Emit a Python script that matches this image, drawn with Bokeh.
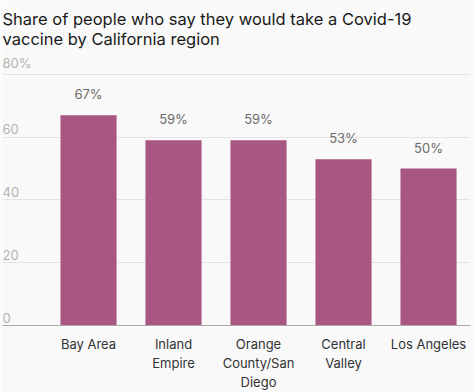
from bokeh.plotting import figure
from bokeh.models import ColumnDataSource, Range1d, FixedTicker
from bokeh.core.properties import value
from bokeh.embed import file_html
from bokeh.resources import INLINE

regions = ["Bay Area", "Inland\nEmpire", "Orange\nCounty/San\nDiego", "Central\nValley", "Los Angeles"]
shares = [67, 59, 59, 53, 50]
share_labels = ["67%", "59%", "59%", "53%", "50%"]
y_ticks = [0, 20, 40, 60, 80]
y_tick_labels = ["0", "20", "40", "60", "80%"]

FONT = "Inter"
BG = "#f9f9f9"
BAR = "#a95682"

xs = list(range(len(regions)))
src = ColumnDataSource(dict(x=xs, top=shares, label=share_labels))

X0, X1 = -1.012, 4.494
p = figure(width=473, height=392, output_backend="svg", toolbar_location=None,
           x_range=Range1d(X0, X1), y_range=Range1d(0, 87),
           background_fill_color=BG, border_fill_color=BG, outline_line_color=None,
           min_border_left=2, min_border_right=3, min_border_top=52, min_border_bottom=60)

p.title.text = "Share of people who say they would take a Covid-19\nvaccine by California region"
p.title.text_font = FONT
p.title.text_font_size = "16.5px"
p.title.text_font_style = "normal"
p.title.text_color = "#1a1a1a"
p.title.offset = 0
p.title.standoff = 8

p.vbar(x="x", top="top", width=0.66, bottom=0, source=src, color=BAR, line_color=None)
p.text(x="x", y="top", text="label", source=src, text_align="center", text_baseline="bottom",
       y_offset=-13, text_font=value(FONT), text_font_size="13px", text_color="#6b6b6b")

tick_src = ColumnDataSource(dict(x=[X0] * len(y_ticks), y=y_ticks, t=y_tick_labels))
p.text(x="x", y="y", text="t", source=tick_src, text_align="left", text_baseline="bottom",
       x_offset=0, y_offset=-3, text_font=value(FONT), text_font_size="13px", text_color="#b3b3b3")

p.yaxis.visible = False
p.ygrid.ticker = FixedTicker(ticks=y_ticks)
p.ygrid.grid_line_color = "#e3e3e3"
p.xgrid.grid_line_color = None

p.xaxis.ticker = FixedTicker(ticks=xs)
p.xaxis.major_label_overrides = {i: r for i, r in enumerate(regions)}
p.xaxis.axis_line_color = "#aaaaaa"
p.xaxis.major_tick_line_color = None
p.xaxis.minor_tick_line_color = None
p.xaxis.major_label_text_font = FONT
p.xaxis.major_label_text_font_size = "13px"
p.xaxis.major_label_text_color = "#333333"
p.xaxis.major_label_standoff = 4

open("out.html", "w").write(file_html(p, INLINE))
